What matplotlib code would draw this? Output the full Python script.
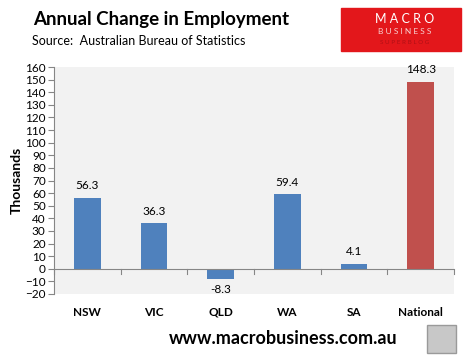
import numpy as np
import matplotlib.pyplot as plt
from matplotlib.patches import Rectangle

plt.rcParams['font.family'] = ['Lato', 'DejaVu Sans']

states = ['NSW', 'VIC', 'QLD', 'WA', 'SA', 'National']
change = [56.3, 36.3, -8.3, 59.4, 4.1, 148.3]
colours = ['#4F81BD'] * 5 + ['#C0504D']
yticks = list(range(-20, 161, 10))

fig = plt.figure(figsize=(4.65, 3.6), dpi=100)
W, H = 465, 360
ax = fig.add_axes([54 / W, 1 - 294 / H, 400 / W, 227 / H])
ax.set_facecolor('#F2F2F2')

x = np.arange(len(states))
ax.bar(x, change, width=0.4, color=colours, zorder=3)
for xi, v in zip(x, change):
    if v >= 0:
        ax.text(xi, v + 5, f'{v:.1f}', ha='center', va='bottom', fontsize=8.5)
    else:
        ax.text(xi, v - 4, f'{v:.1f}', ha='center', va='top', fontsize=8.5)

ax.set_xlim(-0.5, len(states) - 0.5)
ax.set_ylim(-20, 160)
ax.set_yticks(yticks)
ax.tick_params(axis='y', labelsize=8.5, length=4, width=0.8, color='#868686', pad=2)
ax.axhline(0, color='#868686', lw=0.8, zorder=4)
# category boundary ticks on the zero line
for b in np.arange(-0.5, len(states), 1.0):
    ax.plot([b, b], [0, -4], color='#868686', lw=0.8, zorder=4, clip_on=False)
ax.set_xticks(x)
ax.set_xticklabels(states, fontweight='bold', fontsize=8.5)
ax.tick_params(axis='x', length=0, pad=9)
for s in ['top', 'right', 'bottom']:
    ax.spines[s].set_visible(False)
ax.spines['left'].set_color('#868686')
ax.spines['left'].set_linewidth(0.8)
ax.set_ylabel('Thousands', fontweight='bold', fontsize=10, labelpad=2)

fig.text(33 / W, 1 - 20 / H, 'Annual Change in Employment', fontsize=13.5,
         fontweight='bold', va='center', ha='left')
fig.text(32 / W, 1 - 41 / H, 'Source:  Australian Bureau of Statistics', fontsize=9,
         va='center', ha='left')

# logo block
fig.patches.append(Rectangle((341 / W, 1 - 51 / H), 120 / W, 43 / H,
                             transform=fig.transFigure, color='#E3171B'))
fig.text(405 / W, 1 - 19 / H, 'M A C R O', color='white', fontsize=9,
         ha='center', va='center')
fig.text(405 / W, 1 - 32 / H, 'B U S I N E S S', color='#F6D0D0', fontsize=6,
         ha='center', va='center')
fig.text(405 / W, 1 - 42 / H, 'S U P E R B L O G', color='#B01015', fontsize=4.5,
         ha='center', va='center')

fig.text(283 / W, 1 - 339 / H, 'www.macrobusiness.com.au', fontsize=13,
         fontweight='bold', ha='center', va='center')
fig.patches.append(Rectangle((427 / W, 1 - 353 / H), 29 / W, 28 / H,
                             transform=fig.transFigure, facecolor='#C8C8C8',
                             edgecolor='#9A9A9A', lw=1))

fig.savefig('out.png', dpi=100)
